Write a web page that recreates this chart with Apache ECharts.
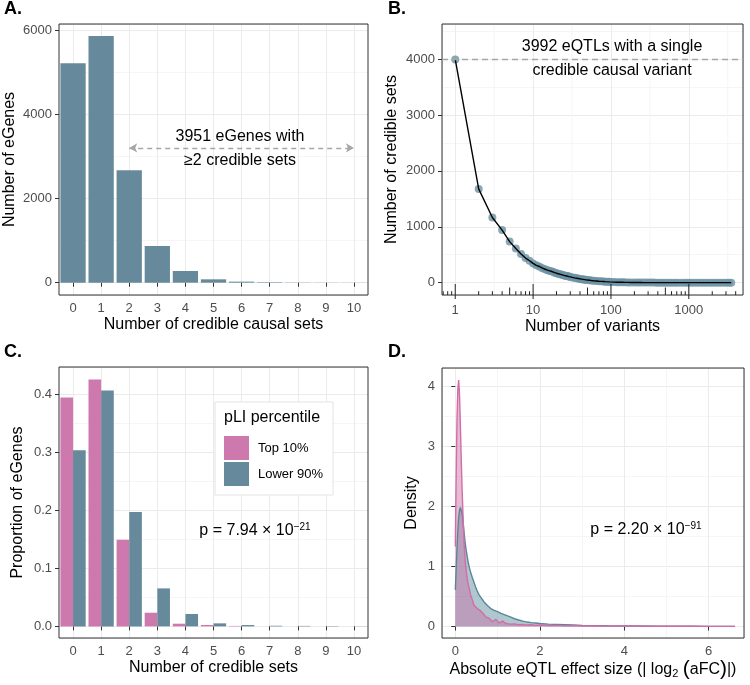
<!DOCTYPE html>
<html>
<head>
<meta charset="utf-8">
<script src="https://cdn.jsdelivr.net/npm/echarts@6/dist/echarts.min.js"></script>
<style>
  html, body { margin: 0; padding: 0; background: #fff; }
  #main { width: 750px; height: 685px; }
</style>
</head>
<body>
<div id="main"></div>
<script>
// panel A: credible causal sets per eGene
const setCats = ['0', '1', '2', '3', '4', '5', '6', '7', '8', '9', '10'];
const eGeneCounts = [5208, 5858, 2672, 874, 278, 80, 25, 12, 5, 3, 2];

// panel B: number of variants in a credible set vs how many sets
const variantN = [1, 2, 3, 4, 5, 6, 7, 8, 9, 10, 11, 12, 13, 14, 15, 16, 17, 18, 19, 20,
  21, 22, 23, 24, 25, 26, 27, 28, 29, 30, 32, 34, 36, 38, 40, 42, 44, 46, 48, 50,
  53, 56, 60, 65, 70, 75, 80, 85, 90, 95, 100, 110, 120, 130, 140, 150, 165, 180, 200, 220,
  240, 265, 290, 320, 350, 385, 420, 460, 500, 550, 600, 660, 720, 800, 880, 960, 1050, 1150, 1270, 1400,
  1530, 1680, 1850, 2030, 2230, 2450, 2700, 2960, 3250, 3500];
const setsN = [3992, 1677, 1165, 941, 735, 612, 515, 440, 392, 345, 310, 290, 265, 245, 228, 215, 205, 194, 180, 170,
  160, 152, 145, 138, 130, 125, 120, 114, 109, 104, 95, 87, 80, 74, 68, 63, 59, 55, 50, 47,
  43, 39, 35, 31, 27, 24, 22, 19, 17, 15, 13, 11, 9, 8, 7, 6, 5, 4, 4, 3,
  3, 2, 2, 2, 2, 1, 1, 1, 1, 1, 1, 1, 1, 1, 1, 1, 1, 1, 1, 1,
  1, 1, 1, 1, 1, 1, 1, 1, 1, 1];
const logTickVals = [0.7, 0.8, 0.9, 1, 2, 3, 4, 5, 6, 7, 8, 9, 10, 20, 30, 40, 50, 60, 70, 80, 90,
  100, 200, 300, 400, 500, 600, 700, 800, 900, 1000, 2000, 3000, 4000];
const logMinorGrid = [3.162, 31.62, 316.2, 3162];

// panel C: proportion of eGenes by pLI group
const pliTop = [0.394, 0.425, 0.149, 0.0235, 0.0046, 0.0024, 0.0008, 0, 0, 0, 0];
const pliLower = [0.303, 0.406, 0.197, 0.0654, 0.0213, 0.0052, 0.0023, 0.0011, 0.0008, 0.0006, 0.0003];

// panel D: density of |log2(aFC)|
const effX = [0, 0.02, 0.04, 0.06, 0.08, 0.1, 0.12, 0.14, 0.16, 0.18, 0.2, 0.22, 0.24, 0.26, 0.28, 0.3,
  0.32, 0.34, 0.36, 0.4, 0.44, 0.48, 0.52, 0.56, 0.6, 0.64, 0.68, 0.72, 0.76, 0.8, 0.84, 0.88,
  0.92, 0.96, 1.0, 1.04, 1.08, 1.12, 1.16, 1.2, 1.3, 1.4, 1.5, 1.6, 1.7, 1.8, 1.9, 2.0,
  2.2, 2.4, 2.6, 2.8, 3.0, 3.3, 3.6, 4.0, 4.4, 4.8, 5.2, 5.6, 6.0, 6.3, 6.62];
const densTop = [1.33, 2.5, 3.45, 3.95, 4.1, 3.85, 3.35, 2.8, 2.3, 1.9, 1.5, 1.25, 1.05, 0.92, 0.82, 0.72,
  0.66, 0.6, 0.53, 0.45, 0.36, 0.33, 0.3, 0.28, 0.26, 0.24, 0.2, 0.16, 0.13, 0.14, 0.12, 0.08,
  0.09, 0.12, 0.1, 0.06, 0.07, 0.09, 0.07, 0.05, 0.04, 0.045, 0.03, 0.035, 0.025, 0.03, 0.02, 0.025,
  0.018, 0.02, 0.012, 0.015, 0.01, 0.012, 0.008, 0.012, 0.007, 0.006, 0.006, 0.005, 0.004, 0.004, 0.004];
const densLower = [0.61, 0.95, 1.3, 1.6, 1.82, 1.93, 1.98, 1.96, 1.88, 1.76, 1.62, 1.48, 1.36, 1.26, 1.17, 1.09,
  1.02, 0.96, 0.91, 0.82, 0.74, 0.66, 0.59, 0.53, 0.49, 0.45, 0.41, 0.38, 0.35, 0.32, 0.3, 0.28,
  0.27, 0.26, 0.25, 0.235, 0.22, 0.21, 0.2, 0.19, 0.16, 0.13, 0.11, 0.09, 0.075, 0.065, 0.06, 0.05,
  0.04, 0.035, 0.03, 0.025, 0.02, 0.016, 0.014, 0.012, 0.01, 0.008, 0.006, 0.005, 0.004, 0.003, 0.003];

const FONT = "'Liberation Sans', Arial, sans-serif";
const BLUE = '#668A9B';
const PINK = '#CD79AD';
const GRID = '#EBEBEB';
const MINOR = '#F5F5F5';
const DARK = '#333333';

const chart = echarts.init(document.getElementById('main'));

function catAxis(idx, name) {
  return {
    type: 'category', gridIndex: idx, data: setCats, boundaryGap: true,
    axisLine: { show: false },
    axisTick: { show: true, alignWithLabel: true, length: 4, lineStyle: { color: DARK } },
    axisLabel: { interval: 0, color: '#4D4D4D', fontSize: 13, margin: 7 },
    splitLine: { show: true, alignWithLabel: true, interval: 0, lineStyle: { color: GRID } },
    name: name, nameLocation: 'middle', nameGap: 22,
    nameTextStyle: { fontSize: 16, color: '#000' }
  };
}

function valAxis(idx, min, max, splitNumber, name, gap, fmt) {
  return {
    type: 'value', gridIndex: idx, min: min, max: max, splitNumber: splitNumber,
    axisLine: { show: false },
    axisTick: { show: true, length: 4, lineStyle: { color: DARK } },
    axisLabel: { color: '#4D4D4D', fontSize: 13, margin: 7, showMinLabel: false, showMaxLabel: false,
      formatter: fmt || (v => String(v)) },
    splitLine: { show: true, lineStyle: { color: GRID } },
    minorTick: { show: false, splitNumber: 2 },
    minorSplitLine: { show: true, lineStyle: { color: MINOR } },
    name: name, nameLocation: 'middle', nameGap: gap,
    nameTextStyle: { fontSize: 16, color: '#000' }
  };
}

const xD = valAxis(3, -0.315, 6.835, 4, '{a|Absolute eQTL effect size (| log}{b|2}{a| }{c|(}{a|aFC}{c|)}{a||)}', 20);
xD.nameTextStyle = {
  rich: {
    a: { fontSize: 16, color: '#000', lineHeight: 20, fontFamily: FONT },
    b: { fontSize: 11, color: '#000', lineHeight: 11, verticalAlign: 'bottom', fontFamily: FONT },
    c: { fontSize: 21, color: '#000', lineHeight: 20, fontFamily: FONT }
  }
};

const option = {
  animation: false,
  backgroundColor: '#fff',
  textStyle: { fontFamily: FONT },
  grid: [
    { left: 59, top: 24, width: 309, height: 271 },
    { left: 442, top: 24, width: 301, height: 271 },
    { left: 59, top: 367, width: 309, height: 271 },
    { left: 442, top: 368, width: 302, height: 270 }
  ].map(g => Object.assign({ show: true, z: 3, borderColor: DARK, borderWidth: 1, backgroundColor: 'transparent' }, g)),
  legend: {
    data: ['Top 10%', 'Lower 90%'],
    orient: 'vertical', left: 215, top: 402,
    icon: 'rect', itemWidth: 25, itemHeight: 24, itemGap: 2,
    selectedMode: false,
    textStyle: { fontSize: 13, color: '#000', padding: [0, 0, 0, 4] },
    backgroundColor: '#fff', borderColor: '#E3E3E3', borderWidth: 1,
    padding: [34, 10, 9, 9]
  },
  xAxis: [
    catAxis(0, 'Number of credible causal sets'),
    {
      type: 'log', logBase: 10, gridIndex: 1, min: 0.676, max: 4966,
      axisLine: { show: false }, axisTick: { show: false },
      axisLabel: {
        color: '#4D4D4D', fontSize: 13, margin: 9,
        formatter: v => {
          const l = Math.log10(v);
          return Math.abs(l - Math.round(l)) < 1e-6 ? String(Math.round(v)) : '';
        }
      },
      splitLine: { show: true, lineStyle: { color: GRID } },
      name: 'Number of variants', nameLocation: 'middle', nameGap: 24,
      nameTextStyle: { fontSize: 16, color: '#000' }
    },
    catAxis(2, 'Number of credible sets'),
    xD
  ],
  yAxis: [
    valAxis(0, -292, 6142, 3, 'Number of eGenes', 41),
    valAxis(1, -220, 4626, 5, 'Number of credible sets', 42),
    valAxis(2, -0.02, 0.4465, 5, 'Proportion of eGenes', 33, v => v.toFixed(1)),
    valAxis(3, -0.19, 4.3, 5, 'Density', 22)
  ],
  series: [
    {
      type: 'bar', xAxisIndex: 0, yAxisIndex: 0, barWidth: '90%',
      itemStyle: { color: BLUE }, data: eGeneCounts, silent: true,
      markLine: {
        silent: true, symbol: ['arrow', 'arrow'], symbolSize: [7, 8],
        label: { show: false },
        lineStyle: { color: '#A6A6A6', type: [5, 4], width: 1.3 },
        data: [[{ coord: ['2', 3200] }, { coord: ['10', 3200] }]]
      }
    },
    {
      type: 'custom', xAxisIndex: 1, yAxisIndex: 1, silent: true, z: 1,
      data: logMinorGrid.map(v => [v, 0]),
      renderItem: (params, api) => {
        const x = api.coord([api.value(0), 0])[0];
        const cs = params.coordSys;
        return { type: 'line', shape: { x1: x, y1: cs.y, x2: x, y2: cs.y + cs.height },
          style: { stroke: MINOR, lineWidth: 1 } };
      }
    },
    {
      type: 'scatter', xAxisIndex: 1, yAxisIndex: 1, silent: true, z: 2,
      symbolSize: 8, itemStyle: { color: '#6C92A4' },
      data: variantN.map((v, i) => [v, setsN[i]]),
      markLine: {
        silent: true, symbol: 'none', label: { show: false },
        lineStyle: { color: '#A6A6A6', type: [6, 4], width: 1.3 },
        data: [{ yAxis: 3992 }]
      }
    },
    {
      type: 'line', xAxisIndex: 1, yAxisIndex: 1, silent: true, z: 3,
      showSymbol: false, lineStyle: { color: '#000', width: 1.4 },
      data: variantN.map((v, i) => [v, setsN[i]])
    },
    {
      type: 'custom', xAxisIndex: 1, yAxisIndex: 1, silent: true, z: 4, clip: false,
      data: logTickVals.map(v => [v, 0]),
      renderItem: (params, api) => {
        const v = api.value(0);
        const x = api.coord([v, 0])[0];
        const cs = params.coordSys;
        const b = cs.y + cs.height;
        const m = v / Math.pow(10, Math.floor(Math.log10(v) + 1e-9));
        let top = b - 3.8, bottom = b;
        if (Math.abs(m - 1) < 1e-6) { top = b - 11; bottom = b + 4; }
        else if (Math.abs(m - 5) < 1e-6) { top = b - 7.5; }
        return { type: 'line', shape: { x1: x, y1: bottom, x2: x, y2: top },
          style: { stroke: '#222', lineWidth: 1 } };
      }
    },
    {
      name: 'Top 10%', type: 'bar', xAxisIndex: 2, yAxisIndex: 2, silent: true,
      barWidth: '45%', barGap: '0%', itemStyle: { color: PINK }, data: pliTop
    },
    {
      name: 'Lower 90%', type: 'bar', xAxisIndex: 2, yAxisIndex: 2, silent: true,
      barWidth: '45%', barGap: '0%', itemStyle: { color: BLUE }, data: pliLower
    },
    {
      type: 'line', xAxisIndex: 3, yAxisIndex: 3, silent: true, showSymbol: false,
      lineStyle: { color: '#5B8697', width: 1.4 },
      areaStyle: { color: '#4E8495', opacity: 0.45 },
      data: effX.map((x, i) => [x, densLower[i]])
    },
    {
      type: 'line', xAxisIndex: 3, yAxisIndex: 3, silent: true, showSymbol: false,
      lineStyle: { color: '#D46CA8', width: 1.4 },
      areaStyle: { color: '#C86AA2', opacity: 0.45 },
      data: effX.map((x, i) => [x, densTop[i]])
    }
  ],
  graphic: [
    { type: 'text', left: 4, top: 0, z: 100, style: { text: 'A.', font: 'bold 18px ' + FONT, fill: '#000' } },
    { type: 'text', left: 388, top: 0, z: 100, style: { text: 'B.', font: 'bold 18px ' + FONT, fill: '#000' } },
    { type: 'text', left: 4, top: 343, z: 100, style: { text: 'C.', font: 'bold 18px ' + FONT, fill: '#000' } },
    { type: 'text', left: 388, top: 343, z: 100, style: { text: 'D.', font: 'bold 18px ' + FONT, fill: '#000' } },
    {
      type: 'text', x: 240, y: 149, z: 100,
      style: { text: '3951 eGenes with\n≥2 credible sets', font: '16px ' + FONT, fill: '#000',
        textAlign: 'center', textVerticalAlign: 'middle', lineHeight: 24 }
    },
    {
      type: 'text', x: 612, y: 59, z: 100,
      style: { text: '3992 eQTLs with a single\ncredible causal variant', font: '16px ' + FONT, fill: '#000',
        textAlign: 'center', textVerticalAlign: 'middle', lineHeight: 24 }
    },
    {
      type: 'text', x: 224, y: 418, z: 100,
      style: { text: 'pLI percentile', font: '16px ' + FONT, fill: '#000', textAlign: 'left', textVerticalAlign: 'middle' }
    },
    {
      type: 'text', x: 255, y: 531, z: 100,
      style: {
        text: '{n|p = 7.94 × 10}{s|−21}', textAlign: 'center', textVerticalAlign: 'middle',
        rich: {
          n: { fontSize: 16, lineHeight: 18, fontFamily: FONT, fill: '#000' },
          s: { fontSize: 10, lineHeight: 10, verticalAlign: 'top', fontFamily: FONT, fill: '#000' }
        }
      }
    },
    {
      type: 'text', x: 646, y: 530, z: 100,
      style: {
        text: '{n|p = 2.20 × 10}{s|−91}', textAlign: 'center', textVerticalAlign: 'middle',
        rich: {
          n: { fontSize: 16, lineHeight: 18, fontFamily: FONT, fill: '#000' },
          s: { fontSize: 10, lineHeight: 10, verticalAlign: 'top', fontFamily: FONT, fill: '#000' }
        }
      }
    }
  ]
};

chart.setOption(option);
</script>
</body>
</html>
